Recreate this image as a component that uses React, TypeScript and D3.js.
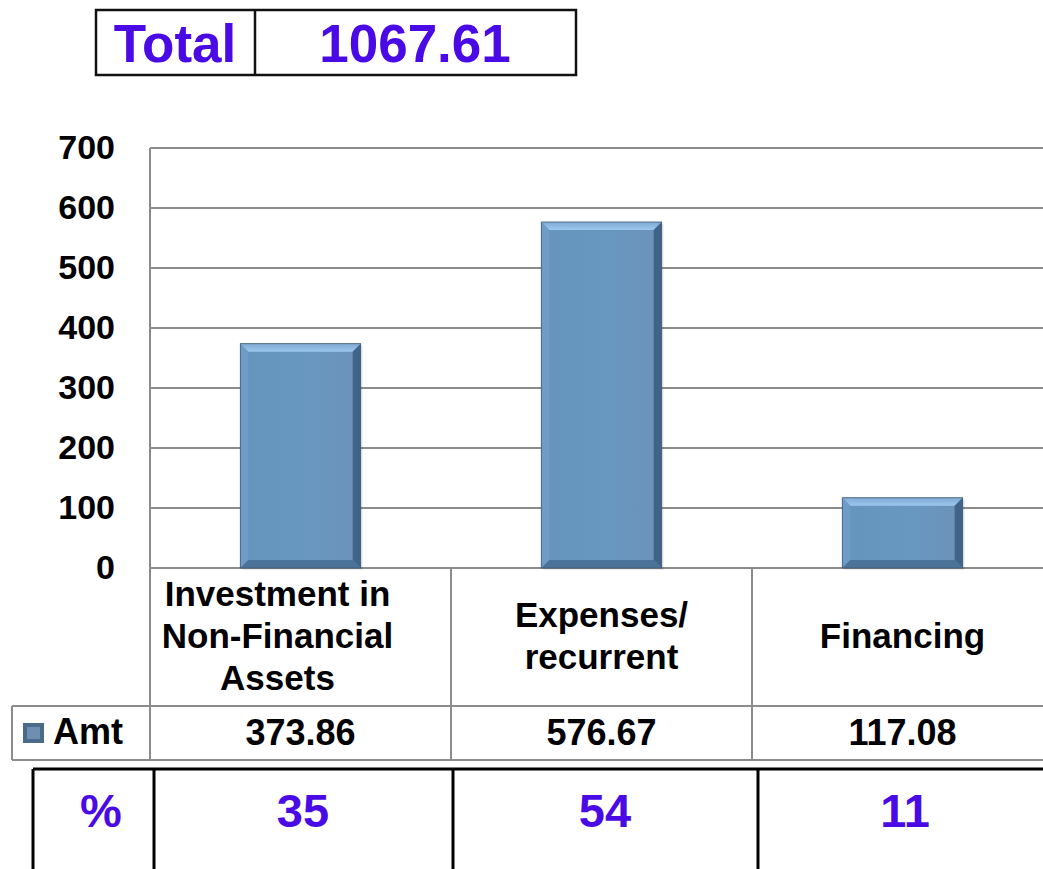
import React from 'react';
import * as d3 from 'd3';

// chart values
const categories = ['Investment in Non-Financial Assets', 'Expenses/ recurrent', 'Financing'];
const categoryLines = [['Investment in', 'Non-Financial', 'Assets'], ['Expenses/', 'recurrent'], ['Financing']];
const amounts = [373.86, 576.67, 117.08];
const amountLabels = ['373.86', '576.67', '117.08'];
const percents = ['35', '54', '11'];
const yTicks = [0, 100, 200, 300, 400, 500, 600, 700];
const seriesName = 'Amt';
const totalLabel = 'Total';
const totalValue = '1067.61';

const W = 1043;
const H = 869;
const FONT = '"Liberation Sans", Arial, sans-serif';
const BLUE = '#4a0ae6';
const GRID = '#8c8c8c';

function Bar({ x, y, w, h }: { x: number; y: number; w: number; h: number }) {
  const b = 8;
  const x1 = x + w;
  const y1 = y + h;
  return (
    <g>
      <rect x={x + 2} y={y + 2} width={w} height={h} fill="#000" opacity={0.08} />
      <rect x={x} y={y} width={w} height={h} fill="url(#face)" />
      <polygon points={`${x},${y} ${x1},${y} ${x1 - b},${y + b} ${x + b},${y + b}`} fill="url(#topBevel)" />
      <polygon points={`${x},${y} ${x + b},${y + b} ${x + b},${y1 - b} ${x},${y1}`} fill="#6f9cc6" />
      <polygon points={`${x1},${y} ${x1},${y1} ${x1 - b},${y1 - b} ${x1 - b},${y + b}`} fill="#3f6488" />
      <polygon points={`${x},${y1} ${x + b},${y1 - b} ${x1 - b},${y1 - b} ${x1},${y1}`} fill="#4b7298" />
      <rect x={x} y={y} width={w} height={h} fill="none" stroke="#3d5b78" strokeWidth={0.8} />
    </g>
  );
}

export default function App() {
  const plotLeft = 150;
  const plotRight = 1053;
  const x = d3.scaleBand<string>()
    .domain(categories)
    .range([plotLeft, plotRight])
    .paddingInner(0.6)
    .paddingOuter(0.3);
  const y = d3.scaleLinear().domain([0, 700]).range([568, 148]);
  const step = x.step();
  const bandStart = (c: string) => (x(c) as number) - step * 0.3;
  const bandCenter = (c: string) => (x(c) as number) + x.bandwidth() / 2;

  const headerBottom = 706;
  const rowBottom = 760;
  const pctTop = 769;
  const pctCols = [33, 154, 453, 758];
  const pctCenters = [93, 303, 605, 905];

  return (
    <svg width={W} height={H} style={{ position: 'absolute', left: 0, top: 0, background: '#fff' }}>
      <defs>
        <linearGradient id="face" x1="0" x2="1" y1="0" y2="0">
          <stop offset="0" stopColor="#6594bd" />
          <stop offset="0.6" stopColor="#6897c0" />
          <stop offset="1" stopColor="#6e92b9" />
        </linearGradient>
        <linearGradient id="topBevel" x1="0" x2="0" y1="0" y2="1">
          <stop offset="0" stopColor="#7fa9d2" />
          <stop offset="1" stopColor="#9cc7ee" />
        </linearGradient>
      </defs>

      {/* total box */}
      <g fontFamily={FONT} fontWeight="bold" fill={BLUE}>
        <rect x={96} y={10} width={480} height={65} fill="none" stroke="#111" strokeWidth={2.5} />
        <line x1={255} x2={255} y1={10} y2={75} stroke="#111" strokeWidth={2.5} />
        <text x={175} y={62} fontSize={53} textAnchor="middle">{totalLabel}</text>
        <text x={415} y={62} fontSize={53} textAnchor="middle">{totalValue}</text>
      </g>

      {/* grid lines */}
      {yTicks.map(t => (
        <line key={t} x1={plotLeft} x2={W} y1={y(t)} y2={y(t)} stroke={GRID} strokeWidth={2} />
      ))}
      <line x1={plotLeft} x2={plotLeft} y1={y(700)} y2={rowBottom} stroke={GRID} strokeWidth={2} />

      {/* y tick labels */}
      <g fontFamily={FONT} fontWeight="bold" fontSize={34} fill="#000" textAnchor="end">
        {yTicks.map(t => (
          <text key={t} x={115} y={y(t)} dy="0.33em">{t}</text>
        ))}
      </g>

      {/* bars */}
      {categories.map((c, i) => (
        <Bar key={c} x={x(c) as number} y={y(amounts[i])} w={x.bandwidth()} h={y(0) - y(amounts[i])} />
      ))}

      {/* data table */}
      {categories.map(c => (
        <line key={c} x1={bandStart(c) + step} x2={bandStart(c) + step} y1={568} y2={rowBottom} stroke={GRID} strokeWidth={2} />
      ))}
      <line x1={12} x2={W} y1={headerBottom} y2={headerBottom} stroke={GRID} strokeWidth={2} />
      <line x1={12} x2={W} y1={rowBottom} y2={rowBottom} stroke={GRID} strokeWidth={2} />
      <line x1={12} x2={12} y1={headerBottom} y2={rowBottom} stroke={GRID} strokeWidth={2} />

      <g fontFamily={FONT} fontWeight="bold" fontSize={35} fill="#000" textAnchor="middle">
        {categories.map((c, i) => {
          const lines = categoryLines[i];
          const first = 637 - ((lines.length - 1) * 42) / 2 + 11;
          return lines.map((l, j) => (
            <text key={c + j} x={bandCenter(c) - (lines.length === 3 ? 23 : 0)} y={first + j * 42}>{l}</text>
          ));
        })}
        {categories.map((c, i) => (
          <text key={c} x={bandCenter(c)} y={745} fontSize={36}>{amountLabels[i]}</text>
        ))}
      </g>

      {/* legend key */}
      <rect x={23} y={723} width={21} height={20} fill="#4a6a8a" />
      <rect x={27} y={727} width={13} height={12} fill="#6f8fb0" />
      <text x={53} y={744} fontFamily={FONT} fontWeight="bold" fontSize={36} fill="#000">{seriesName}</text>

      {/* percent table */}
      <line x1={pctCols[0]} x2={W} y1={pctTop} y2={pctTop} stroke="#000" strokeWidth={3} />
      {pctCols.map(px => (
        <line key={px} x1={px} x2={px} y1={pctTop} y2={H} stroke="#000" strokeWidth={3} />
      ))}
      <g fontFamily={FONT} fontWeight="bold" fontSize={47} fill={BLUE} textAnchor="middle">
        <text x={101} y={827}>%</text>
        {percents.map((p, i) => (
          <text key={i} x={pctCenters[i + 1]} y={827}>{p}</text>
        ))}
      </g>
    </svg>
  );
}
